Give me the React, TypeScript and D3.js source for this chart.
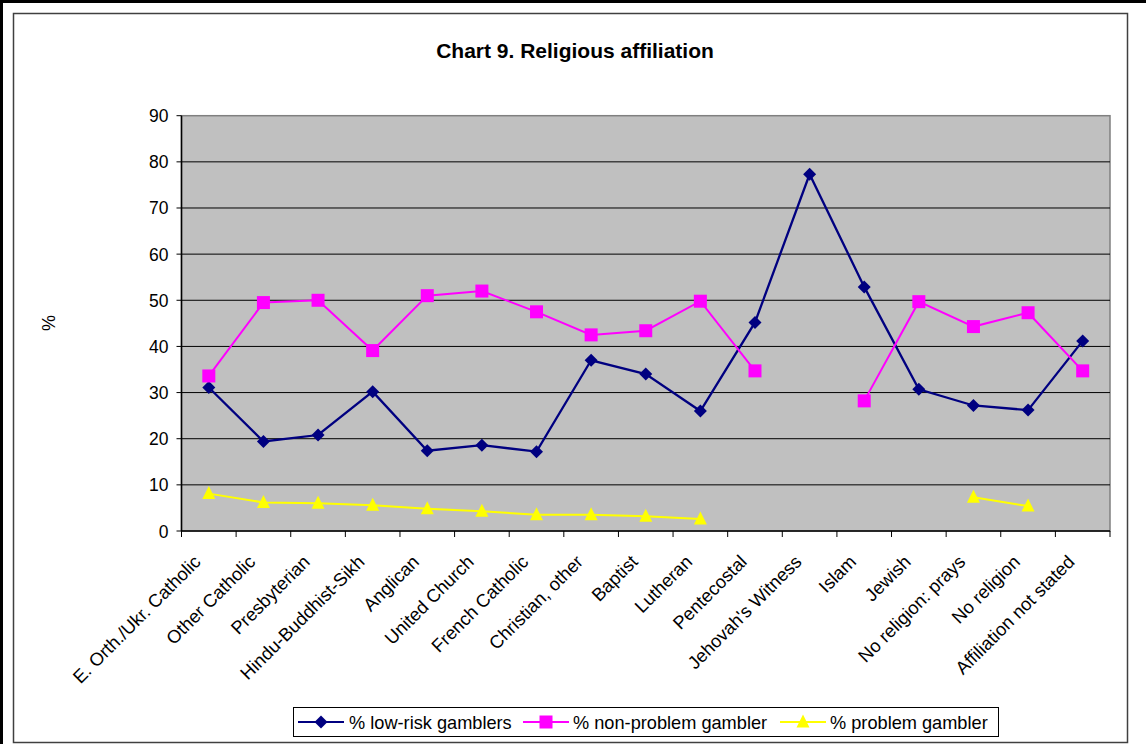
import React from "react";
import * as d3 from "d3";

const categories = [
  "E. Orth./Ukr. Catholic",
  "Other Catholic",
  "Presbyterian",
  "Hindu-Buddhist-Sikh",
  "Anglican",
  "United Church",
  "French Catholic",
  "Christian, other",
  "Baptist",
  "Lutheran",
  "Pentecostal",
  "Jehovah's Witness",
  "Islam",
  "Jewish",
  "No religion: prays",
  "No religion",
  "Affiliation not stated",
];

const lowRisk: (number | null)[] = [31.1, 19.4, 20.8, 30.2, 17.4, 18.6, 17.2, 37.0, 34.0, 26.0, 45.2, 77.3, 52.9, 30.7, 27.2, 26.2, 41.2];
const nonProblem: (number | null)[] = [33.6, 49.5, 50.0, 39.1, 51.0, 52.0, 47.5, 42.5, 43.4, 49.8, 34.7, null, 28.2, 49.7, 44.3, 47.3, 34.7];
const problem: (number | null)[] = [8.1, 6.2, 6.0, 5.6, 4.8, 4.3, 3.5, 3.5, 3.2, 2.6, null, null, null, null, 7.3, 5.4, null];

const yTicks = [0, 10, 20, 30, 40, 50, 60, 70, 80, 90];

const FONT = "Liberation Sans, Arial, sans-serif";

type Marker = "diamond" | "square" | "triangle";

function MarkerShape({ type, x, y, color }: { type: Marker; x: number; y: number; color: string }) {
  if (type === "diamond") {
    const s = 6.5;
    return <path d={`M${x},${y - s}L${x + s},${y}L${x},${y + s}L${x - s},${y}Z`} fill={color} />;
  }
  if (type === "square") {
    const s = 6.5;
    return <rect x={x - s} y={y - s} width={2 * s} height={2 * s} fill={color} />;
  }
  const s = 6.5;
  return <path d={`M${x},${y - s - 1}L${x + s},${y + s - 1}L${x - s},${y + s - 1}Z`} fill={color} />;
}

export default function App() {
  const W = 1146;
  const H = 744;
  const left = 181.5;
  const right = 1110;
  const top = 115.7;
  const bottom = 531;

  const x = d3.scaleBand<string>().domain(categories).range([left, right]);
  const y = d3.scaleLinear().domain([0, 90]).range([bottom, top]);
  const cx = (c: string) => (x(c) as number) + x.bandwidth() / 2;

  const series: { name: string; data: (number | null)[]; color: string; marker: Marker; width: number }[] = [
    { name: "% low-risk gamblers", data: lowRisk, color: "#000080", marker: "diamond", width: 2.3 },
    { name: "% non-problem gambler", data: nonProblem, color: "#FF00FF", marker: "square", width: 2 },
    { name: "% problem gambler", data: problem, color: "#FFFF00", marker: "triangle", width: 2 },
  ];

  const line = d3
    .line<number | null>()
    .defined((d) => d !== null)
    .x((_, i) => cx(categories[i]))
    .y((d) => y(d as number));

  const boundaries = d3.range(categories.length + 1).map((i) => left + i * x.step());

  const legendItems = [
    { lx: 298, tx: 349 },
    { lx: 523, tx: 573 },
    { lx: 780, tx: 830 },
  ];

  return (
    <svg width={W} height={H} style={{ position: "absolute", left: 0, top: 0 }} fontFamily={FONT}>
      <rect x={0} y={0} width={W} height={H} fill="#fff" />
      <rect x={0} y={0} width={W} height={3} fill="#000" />
      <rect x={0} y={0} width={3} height={H} fill="#000" />
      <rect x={13.5} y={13.5} width={1114} height={729} fill="#fff" stroke="#404040" strokeWidth={1.5} />

      <text x={575} y={58} textAnchor="middle" fontSize={21} fontWeight="bold" fill="#000">
        Chart 9. Religious affiliation
      </text>

      {/* plot area */}
      <rect x={left} y={top} width={right - left} height={bottom - top} fill="#C0C0C0" stroke="#808080" strokeWidth={1.5} />
      {yTicks.slice(1, -1).map((t) => (
        <line key={t} x1={left} x2={right} y1={y(t)} y2={y(t)} stroke="#000" strokeWidth={1} />
      ))}
      {/* axes */}
      <line x1={left} x2={left} y1={top} y2={bottom} stroke="#000" strokeWidth={1.5} />
      <line x1={left} x2={right} y1={bottom} y2={bottom} stroke="#000" strokeWidth={1.5} />
      {yTicks.map((t) => (
        <g key={t}>
          <line x1={left - 5} x2={left} y1={y(t)} y2={y(t)} stroke="#000" strokeWidth={1} />
          <text x={left - 13} y={y(t) + 6.5} textAnchor="end" fontSize={17.5} fill="#000">
            {t}
          </text>
        </g>
      ))}
      {boundaries.map((b, i) => (
        <line key={i} x1={b} x2={b} y1={bottom} y2={bottom + 6} stroke="#000" strokeWidth={1} />
      ))}
      {categories.map((c) => (
        <text
          key={c}
          transform={`translate(${cx(c) - 7},${bottom + 32}) rotate(-45)`}
          textAnchor="end"
          fontSize={18.3}
          fill="#000"
        >
          {c}
        </text>
      ))}

      <text transform={`translate(55,323) rotate(-90)`} textAnchor="middle" fontSize={18} fill="#000">
        %
      </text>

      {/* series */}
      {series.map((s) => (
        <g key={s.name}>
          <path d={line(s.data) || ""} fill="none" stroke={s.color} strokeWidth={s.width} />
          {s.data.map((d, i) =>
            d === null ? null : <MarkerShape key={i} type={s.marker} x={cx(categories[i])} y={y(d)} color={s.color} />
          )}
        </g>
      ))}

      {/* legend */}
      <rect x={293.5} y={707.5} width={705} height={29} fill="#fff" stroke="#000" strokeWidth={1} />
      {series.map((s, i) => (
        <g key={s.name}>
          <line x1={legendItems[i].lx} x2={legendItems[i].lx + 46} y1={722} y2={722} stroke={s.color} strokeWidth={2} />
          <MarkerShape type={s.marker} x={legendItems[i].lx + 23} y={722} color={s.color} />
          <text x={legendItems[i].tx} y={728.5} fontSize={18.2} fill="#000">
            {s.name}
          </text>
        </g>
      ))}
    </svg>
  );
}
